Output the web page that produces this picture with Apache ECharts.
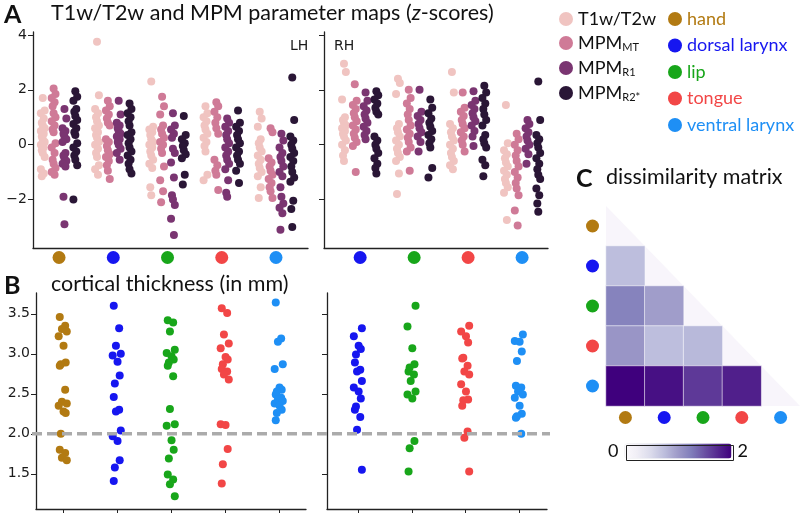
<!DOCTYPE html>
<html><head><meta charset="utf-8">
<script src="https://cdn.jsdelivr.net/npm/echarts@6/dist/echarts.min.js"></script>
<style>html,body{margin:0;padding:0;background:#fff}#c{width:800px;height:519px}</style>
</head><body><div id="c"></div>
<script>
// ---------- data ----------
const regions = ['hand', 'dorsal larynx', 'lip', 'tongue', 'ventral larynx'];
const paramNames = ['T1w/T2w', 'MPM_MT', 'MPM_R1', 'MPM_R2*'];
const aTicks = [-2, 0, 2, 4];
const bTicks = [1.5, 2.0, 2.5, 3.0, 3.5];
const threshold = [2.0];

// Panel A, left hemisphere: groups hand, dorsal larynx, lip, tongue, ventral larynx
const aLH_T1w = [
  [1.7, 1.25, 1.15, 0.95, 0.8, 0.7, 0.6, 0.5, 0.4, 0.3, 0.2, 0.1, 0.0, -0.1, -0.2, -0.3, -0.45, -0.9, -1.05, -1.15],
  [3.75, 1.8, 1.3, 1.15, 1.0, 0.85, 0.7, 0.6, 0.45, 0.35, 0.25, 0.1, 0.0, -0.15, -0.3, -0.45, -0.75, -0.9, -1.1],
  [2.3, 0.65, 0.55, 0.45, 0.35, 0.2, 0.1, 0.0, -0.1, -0.25, -0.4, -0.55, -0.7, -0.85, -1.55, -1.85],
  [1.4, 1.15, 1.0, 0.85, 0.7, 0.55, 0.4, 0.25, 0.1, -0.05, -0.25, -1.1, -1.3],
  [1.2, 0.95, 0.65, 0.2, 0.05, -0.1, -0.25, -0.4, -0.55, -0.7, -0.85, -1.0, -1.15, -1.55, -1.95]
];
const aLH_MT = [
  [2.05, 1.85, 1.7, 1.55, 1.4, 1.15, 1.0, 0.85, 0.7, 0.55, 0.45, 0.05, -0.1, -0.3, -0.55, -0.7, -0.85, -1.0, -1.1],
  [1.6, 1.4, 1.25, 1.1, 0.95, 0.8, 0.7, 0.2, 0.1, -0.05, -0.2, -0.35, -0.45, -0.6, -0.75, -0.95, -1.25],
  [1.75, 1.4, 1.1, 0.7, 0.55, 0.4, 0.25, 0.1, 0.0, -0.15, -0.3, -0.8, -1.3, -1.7, -2.1],
  [1.55, 1.4, 1.2, 1.0, 0.8, 0.6, 0.4, -0.55, -0.75, -0.95, -1.1, -1.65],
  [0.6, 0.45, -0.5, -0.65, -0.8, -0.95, -1.1, -1.25, -1.4, -1.55, -1.7, -1.95]
];
const aLH_R1 = [
  [1.3, 0.95, 0.6, 0.5, 0.4, 0.3, 0.2, 0.1, -0.3, -0.4, -0.5, -0.6, -0.7, -0.8, -1.9, -2.9],
  [1.6, 1.1, 0.8, 0.7, 0.6, 0.5, 0.4, 0.3, 0.2, 0.1, 0.0, -0.15, -0.3, -0.55],
  [1.15, 0.7, 0.55, 0.4, 0.25, -0.15, -0.3, -0.65, -1.2, -1.85, -2.0, -2.2, -2.7, -3.3],
  [0.95, 0.8, 0.65, 0.5, 0.35, 0.2, 0.05, -0.1, -0.25, -0.4, -0.55, -0.7, -0.9, -1.3, -1.75, -1.9],
  [0.4, 0.15, -0.1, -0.3, -0.45, -0.6, -0.8, -1.0, -1.15, -1.55, -1.9, -2.15, -2.3, -2.5, -3.1]
];
const aLH_R2 = [
  [1.95, 1.75, 1.6, 1.3, 1.2, 1.05, 0.9, 0.75, 0.6, 0.45, 0.35, 0.05, -0.1, -0.25, -0.4, -0.55, -0.75, -2.0],
  [1.5, 1.3, 1.15, 1.0, 0.85, 0.7, 0.45, 0.35, 0.2, 0.05, -0.1, -0.25, -0.4, -0.55, -0.7, -0.9, -1.05],
  [1.05, 0.35, 0.2, 0.05, -0.05, -0.2, -0.35, -0.5, -1.1, -1.45],
  [1.25, 0.8, 0.65, 0.5, 0.35, 0.2, 0.05, -0.1, -0.25, -0.4, -0.55, -0.7, -0.95, -1.4],
  [2.45, 0.9, 0.3, 0.15, 0.0, -0.15, -0.3, -0.45, -0.6, -0.8, -1.0, -1.2, -1.35, -2.05, -2.35, -3.0]
];
// Panel A, right hemisphere: groups dorsal larynx, lip, tongue, ventral larynx
const aRH_T1w = [
  [2.95, 2.65, 1.65, 1.0, 0.9, 0.8, 0.7, 0.6, 0.5, 0.4, 0.3, 0.15, 0.0, -0.2, -0.4, -0.6],
  [2.4, 2.25, 1.85, 0.75, 0.6, 0.45, 0.3, 0.15, 0.0, -0.15, -0.3, -0.45, -0.6, -1.05, -1.8],
  [2.65, 1.9, 0.75, 0.6, 0.45, 0.3, 0.15, 0.0, -0.15, -0.3, -0.45, -0.6, -0.75, -0.9],
  [1.45, 0.05, -0.2, -0.35, -0.5, -0.65, -0.8, -0.95, -1.1, -1.25, -1.4, -1.55, -1.75, -2.75]
];
const aRH_MT = [
  [2.2, 1.6, 1.45, 1.3, 1.15, 1.0, 0.85, 0.7, 0.55, 0.4, 0.25, 0.1, -0.05, -1.0],
  [2.0, 1.7, 1.5, 1.3, 1.1, 0.9, 0.7, 0.55, 0.4, 0.25, 0.1, -0.1, -0.25, -0.95],
  [1.9, 1.35, 1.2, 1.05, 0.9, 0.75, 0.6, 0.45, 0.3, 0.15, 0.0, -0.25],
  [0.4, 0.2, 0.0, -0.2, -0.4, -0.6, -0.8, -1.0, -1.2, -1.4, -1.6, -1.85, -2.4, -2.95]
];
const aRH_R1 = [
  [1.9, 1.6, 1.4, 1.25, 1.1, 0.95, 0.8, 0.65, 0.5, 0.35, 0.2],
  [2.0, 1.2, 1.05, 0.9, 0.75, 0.6, 0.45, 0.3, 0.1, -0.25],
  [1.95, 1.6, 1.45, 1.3, 1.15, 1.0, 0.85, 0.7, 0.5, 0.3, -0.05],
  [0.9, 0.75, 0.6, 0.45, 0.3, 0.15, 0.0, -0.15, -0.35, -0.7]
];
const aRH_R2 = [
  [1.95, 1.8, 1.65, 1.5, 1.35, 1.2, 1.1, 0.3, 0.15, 0.0, -0.15, -0.3, -0.5, -0.7, -0.85, -1.05],
  [1.65, 1.35, 1.15, 0.95, 0.8, 0.65, 0.5, 0.35, 0.2, 0.05, -0.1, -0.85, -1.2],
  [2.15, 1.9, 1.7, 1.5, 1.3, 1.1, 0.9, 0.7, 0.35, 0.2, 0.05, -0.1, -0.55, -0.75, -1.15],
  [2.3, 0.9, 0.35, 0.2, 0.05, -0.1, -0.3, -0.5, -0.7, -0.9, -1.1, -1.25, -1.6, -1.85, -2.15, -2.45]
];

// Panel B: cortical thickness (mm)
const bLH = [
  [3.46, 3.35, 3.31, 3.28, 3.22, 3.1, 2.89, 2.87, 2.85, 2.55, 2.4, 2.38, 2.35, 2.28, 2.26, 2.0, 1.8, 1.76, 1.7, 1.67],
  [3.6, 3.32, 3.1, 3.0, 2.98, 2.9, 2.73, 2.63, 2.46, 2.3, 2.28, 2.04, 1.97, 1.91, 1.67, 1.58, 1.41],
  [3.42, 3.39, 3.28, 3.05, 3.01, 2.97, 2.93, 2.89, 2.85, 2.72, 2.31, 2.12, 2.1, 1.92, 1.8, 1.69, 1.49, 1.43, 1.37, 1.22],
  [3.57, 3.51, 3.24, 3.13, 3.07, 2.96, 2.93, 2.87, 2.81, 2.78, 2.74, 2.68, 2.12, 2.11, 1.81, 1.62, 1.38],
  [3.64, 3.19, 3.15, 2.87, 2.81, 2.58, 2.55, 2.53, 2.49, 2.45, 2.43, 2.41, 2.38, 2.35, 2.3, 2.26, 2.17]
];
const bRH = [
  [3.32, 3.22, 3.1, 3.06, 2.99, 2.89, 2.8, 2.78, 2.66, 2.58, 2.53, 2.44, 2.34, 2.3, 2.21, 2.05, 1.55],
  [3.6, 3.34, 3.07, 2.87, 2.83, 2.78, 2.74, 2.66, 2.53, 2.49, 2.44, 1.91, 1.82, 1.53],
  [3.35, 3.28, 3.22, 3.14, 2.95, 2.94, 2.85, 2.78, 2.74, 2.62, 2.53, 2.43, 2.42, 2.35, 2.03, 1.95, 1.53],
  [3.24, 3.16, 3.15, 3.03, 2.91, 2.6, 2.58, 2.53, 2.49, 2.45, 2.35, 2.25, 2.22, 2.2, 2.0]
];

// Panel C: dissimilarity matrix, lower triangle [column, row, value]
const cCells = [
  [0, 1, 0.74],
  [0, 2, 1.2], [1, 2, 0.98],
  [0, 3, 1.04], [1, 3, 0.74], [2, 3, 0.78],
  [0, 4, 2.0], [1, 4, 1.9], [2, 4, 1.64], [3, 4, 1.8]
];
const cRange = [0, 2];

// ---------- styles ----------
const regionColors = ['#b27a12', '#1616f0', '#18a61a', '#f24646', '#1e8ff5'];
const paramColors = ['#f0c4c1', '#cf7a97', '#7a3571', '#2a1636'];
const purples = ['#fcfbfd', '#efedf5', '#dadaeb', '#bcbddc', '#9e9ac8', '#807dba', '#6a51a3', '#54278f', '#3f007d'];
const colOffset = [-0.3, -0.1, 0.1, 0.3];
const jitA = [0, 0.035, -0.035, 0.018, -0.018];
const jitB = [-0.06, 0.04, -0.02, 0.07, -0.08, 0.01, 0.05, -0.04];
const axisColor = '#222';
const tickFont = 'DejaVu Sans';
const textFont = 'Lato';

const dotRich = {};
regionColors.forEach((c, i) => {
  dotRich['r' + i] = { width: 13, height: 13, borderRadius: 7, backgroundColor: c };
});
const dotFmt = v => '{r' + Math.round(v) + '| }';
const minusFmt = v => (v < 0 ? '\u2212' + Math.abs(v) : String(v));

// ---------- series ----------
const series = [];
function addA(groups, firstIdx, axisIdx) {
  groups.forEach((cols, p) => {
    const data = [];
    cols.forEach((vals, g) => vals.forEach((v, i) => data.push([firstIdx + g + colOffset[p] + jitA[i % jitA.length], v])));
    series.push({
      name: paramNames[p], type: 'scatter', xAxisIndex: axisIdx, yAxisIndex: axisIdx,
      symbolSize: 8, data, itemStyle: { color: paramColors[p], opacity: 1 }, silent: true
    });
  });
}
addA([aLH_T1w, aLH_MT, aLH_R1, aLH_R2], 0, 0);
addA([aRH_T1w, aRH_MT, aRH_R1, aRH_R2], 1, 1);

bLH.forEach((vals, r) => {
  series.push({
    name: regions[r], type: 'scatter', xAxisIndex: 2, yAxisIndex: 2, symbolSize: 8,
    data: vals.map((v, i) => [r + jitB[i % jitB.length], v]), itemStyle: { color: regionColors[r], opacity: 1 }, silent: true
  });
});
bRH.forEach((vals, k) => {
  const r = k + 1;
  series.push({
    name: regions[r], type: 'scatter', xAxisIndex: 3, yAxisIndex: 3, symbolSize: 8,
    data: vals.map((v, i) => [r + jitB[(i + 3) % jitB.length], v]), itemStyle: { color: regionColors[r], opacity: 1 }, silent: true
  });
});
series.push({
  type: 'line', xAxisIndex: 4, yAxisIndex: 4, symbol: 'none', silent: true, z: 5,
  data: [[0, threshold[0]], [1, threshold[0]]],
  lineStyle: { color: '#ababab', width: 3.5, type: [10, 5] }
});
series.push({
  type: 'custom', xAxisIndex: 5, yAxisIndex: 5, silent: true, z: 1,
  data: [[0, 0]],
  renderItem: (params, api) => {
    const p0 = api.coord([0, 0]);
    const p4 = api.coord([regions.length - 1, regions.length - 1]);
    const s = api.size([1, 1]);
    const x0 = p0[0] - s[0] / 2, y0 = p0[1] - s[1] / 2;
    const x1 = p4[0] + s[0] / 2, y1 = p4[1] + s[1] / 2;
    return { type: 'polygon', shape: { points: [[x0, y0], [x1, y1], [x0, y1]] }, style: { fill: '#f8f5fb' } };
  }
});
const heatIdx = series.length;
series.push({
  type: 'heatmap', xAxisIndex: 5, yAxisIndex: 5, data: cCells, silent: true, z: 2,
  itemStyle: { borderColor: 'rgba(255,255,255,0.7)', borderWidth: 0.8 }
});

// ---------- axes ----------
function valX(min, max, extra) {
  return Object.assign({
    type: 'value', min, max, splitLine: { show: false },
    axisLine: { show: true, onZero: false, lineStyle: { color: axisColor, width: 1.3 } }
  }, extra);
}
const xAxes = [
  valX(-0.48, 4.59, { gridIndex: 0, axisTick: { show: false },
    axisLabel: { show: true, customValues: [0, 1, 2, 3, 4], formatter: dotFmt, rich: dotRich, margin: 3 } }),
  valX(0.33, 4.48, { gridIndex: 1, axisTick: { show: false },
    axisLabel: { show: true, customValues: [1, 2, 3, 4], formatter: dotFmt, rich: dotRich, margin: 3 } }),
  valX(-0.5, 4.5, { gridIndex: 2, axisTick: { show: true, customValues: [0, 1, 2, 3, 4], length: 4, lineStyle: { color: axisColor } },
    axisLabel: { show: false } }),
  valX(0.42, 4.52, { gridIndex: 3, axisTick: { show: true, customValues: [1, 2, 3, 4], length: 4, lineStyle: { color: axisColor } },
    axisLabel: { show: false } }),
  { type: 'value', gridIndex: 4, min: 0, max: 1, show: false },
  { type: 'category', gridIndex: 5, data: regions, axisLine: { show: false }, axisTick: { show: false },
    splitLine: { show: false }, axisLabel: { formatter: (v, i) => '{r' + i + '| }', rich: dotRich, margin: 5 } }
];
function valY(min, max, ticks, labels, fmt, extra) {
  return Object.assign({
    type: 'value', min, max, splitLine: { show: false },
    axisLine: { show: true, onZero: false, lineStyle: { color: axisColor, width: 1.3 } },
    axisTick: { show: true, customValues: ticks, length: 5, lineStyle: { color: axisColor } },
    axisLabel: { show: labels, customValues: ticks, formatter: fmt, fontFamily: tickFont, fontSize: 14, color: '#1a1a1a', margin: 6 }
  }, extra);
}
const yAxes = [
  valY(-3.77, 4.11, aTicks, true, minusFmt, { gridIndex: 0 }),
  valY(-3.77, 4.11, aTicks, false, minusFmt, { gridIndex: 1 }),
  valY(1.06, 3.76, bTicks, true, v => v.toFixed(1), { gridIndex: 2 }),
  valY(1.06, 3.76, bTicks, false, v => v.toFixed(1), { gridIndex: 3 }),
  { type: 'value', gridIndex: 4, min: 1.06, max: 3.76, show: false },
  { type: 'category', gridIndex: 5, data: regions, inverse: true, axisLine: { show: false }, axisTick: { show: false },
    splitLine: { show: false }, axisLabel: { formatter: (v, i) => '{r' + i + '| }', rich: dotRich, margin: 7 } }
];

const titleStyle = (size, weight) => ({ fontFamily: textFont, fontSize: size, fontWeight: weight, color: '#111' });

const option = {
  animation: false,
  backgroundColor: '#fff',
  title: [
    { text: 'A', left: 4, top: 2, padding: 0, textStyle: titleStyle(25, 'bold') },
    { text: '{n|T1w/T2w and MPM parameter maps (}{i|z}{n|-scores)}', left: 51, top: 2, padding: 0,
      textStyle: { rich: { n: titleStyle(21.5, 'normal'), i: Object.assign(titleStyle(21.5, 'normal'), { fontStyle: 'italic' }) } } },
    { text: 'LH', left: 290, top: 39, padding: 0, textStyle: { fontFamily: tickFont, fontSize: 14, fontWeight: 'normal', color: '#1a1a1a' } },
    { text: 'RH', left: 334, top: 39, padding: 0, textStyle: { fontFamily: tickFont, fontSize: 14, fontWeight: 'normal', color: '#1a1a1a' } },
    { text: 'B', left: 4, top: 273, padding: 0, textStyle: titleStyle(25, 'bold') },
    { text: 'cortical thickness (in mm)', left: 51, top: 273, padding: 0, textStyle: titleStyle(21.5, 'normal') },
    { text: 'C', left: 576, top: 166, padding: 0, textStyle: titleStyle(25, 'bold') },
    { text: 'dissimilarity matrix', left: 606, top: 166, padding: 0, textStyle: titleStyle(21.5, 'normal') }
  ],
  legend: [
    { data: paramNames, orient: 'vertical', left: 559, top: 10, itemGap: 6, icon: 'circle', itemWidth: 14, itemHeight: 14,
      selectedMode: false, padding: 0,
      formatter: name => {
        if (name.indexOf('MPM_') === 0) return '{m|MPM}{s|' + name.slice(4) + '}';
        return '{m|' + name + '}';
      },
      textStyle: { rich: {
        m: { fontFamily: textFont, fontSize: 18, color: '#111' },
        s: { fontFamily: textFont, fontSize: 11, color: '#111', padding: [9, 0, 0, 0] }
      } } },
    { data: regions, orient: 'vertical', left: 668, top: 10, itemGap: 8.5, icon: 'circle', itemWidth: 14, itemHeight: 14,
      selectedMode: false, padding: 0,
      formatter: name => '{c' + regions.indexOf(name) + '|' + name + '}',
      textStyle: { rich: Object.fromEntries(regions.map((r, i) => ['c' + i, { fontFamily: textFont, fontSize: 18, color: regionColors[i] }])) } }
  ],
  grid: [
    { left: 33, top: 32, width: 275, height: 216 },
    { left: 324, top: 32, width: 224, height: 216 },
    { left: 36, top: 293, width: 270, height: 216 },
    { left: 327, top: 293, width: 220, height: 216 },
    { left: 32, top: 293, width: 518, height: 216 },
    { left: 606, top: 206, width: 200, height: 200 }
  ],
  xAxis: xAxes,
  yAxis: yAxes,
  visualMap: {
    type: 'continuous', seriesIndex: heatIdx, min: cRange[0], max: cRange[1], orient: 'horizontal',
    left: 593, top: 427, itemWidth: 15, itemHeight: 107, text: [String(cRange[1]), String(cRange[0])], textGap: 6,
    calculable: false, hoverLink: false, inRange: { color: purples },
    textStyle: { fontFamily: textFont, fontSize: 18, color: '#111' }
  },
  graphic: [
    { type: 'rect', left: 624, top: 443, shape: { width: 107, height: 15 }, style: { fill: 'none', stroke: '#222', lineWidth: 1 }, z: 100, silent: true }
  ],
  series
};
const chart = echarts.init(document.getElementById('c'), null, { renderer: 'canvas' });
chart.setOption(option);
</script>
</body></html>
